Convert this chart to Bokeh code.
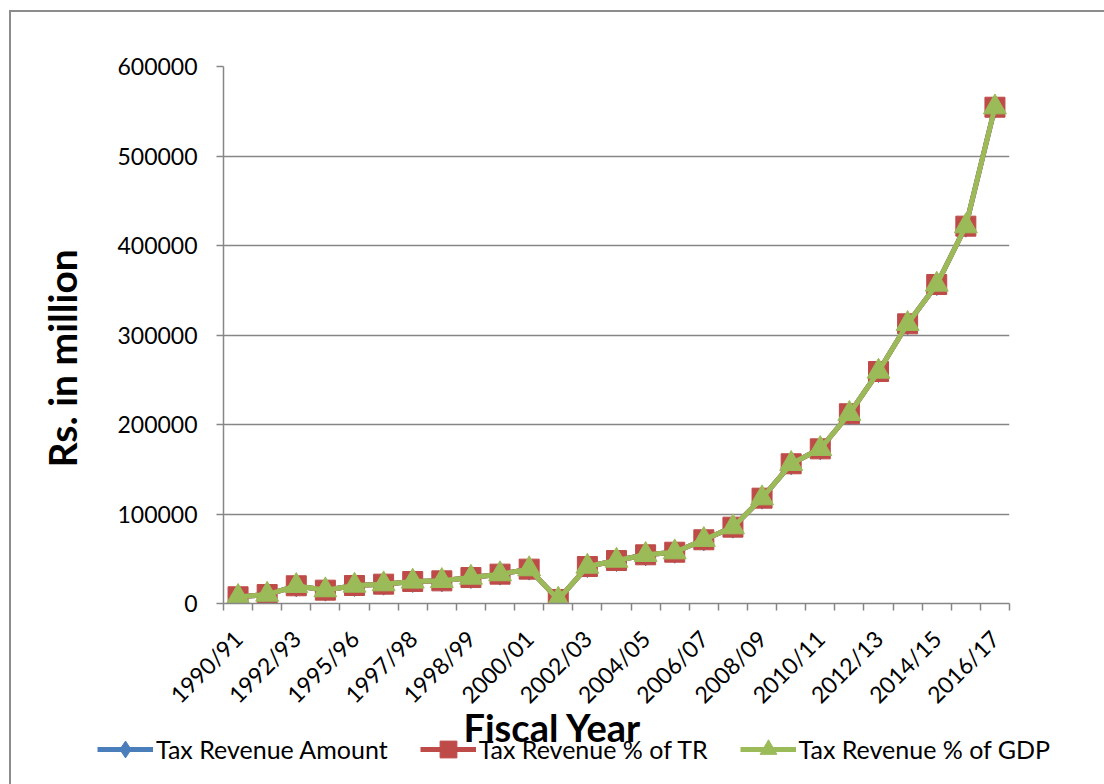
from math import pi
from bokeh.plotting import figure
from bokeh.layouts import column
from bokeh.models import (FixedTicker, Legend, LegendItem, Title, Range1d)
from bokeh.embed import file_html
from bokeh.resources import INLINE

fiscal_years = ["1990/91", "1991/92", "1992/93", "1993/94", "1995/96", "1996/97",
                "1997/98", "1997/98", "1998/99", "1999/00", "2000/01", "2001/02",
                "2002/03", "2003/04", "2004/05", "2005/06", "2006/07", "2007/08",
                "2008/09", "2009/10", "2010/11", "2011/12", "2012/13", "2013/14",
                "2014/15", "2015/16", "2016/17"]

tax_revenue_amount = [7500, 10000, 19800, 14900, 20100, 21600, 24600, 25300, 29000,
                      32800, 38400, 4500, 41300, 48000, 54400, 57300, 71200, 85300,
                      117700, 156100, 172800, 212000, 259200, 312500, 356400, 421600, 554500]
tax_revenue_pct_tr = [7500, 10000, 19800, 14900, 20100, 21600, 24600, 25300, 29000,
                      32800, 38400, 4500, 41300, 48000, 54400, 57300, 71200, 85300,
                      117700, 156100, 172800, 212000, 259200, 312500, 356400, 421600, 554500]
tax_revenue_pct_gdp = [7500, 10000, 19800, 14900, 20100, 21600, 24600, 25300, 29000,
                       32800, 38400, 4500, 41300, 48000, 54400, 57300, 71200, 85300,
                       117700, 156100, 172800, 212000, 259200, 312500, 356400, 421600, 554500]

y_ticks = [0, 100000, 200000, 300000, 400000, 500000, 600000]
series_names = ["Tax Revenue Amount", "Tax Revenue % of TR", "Tax Revenue % of GDP"]
x_title = "Fiscal Year"
y_title = "Rs. in million"

FONT = "Lato"
GRAY = "#868686"
BORDER = "#8c8c8c"
colors = ["#4A7EBB", "#BE4B48", "#9BBB59"]
markers = ["diamond", "square", "triangle"]
marker_sizes = [22, 20, 23]
series = [tax_revenue_amount, tax_revenue_pct_tr, tax_revenue_pct_gdp]

x = list(range(len(fiscal_years)))

# ---------------- main chart ----------------
p = figure(width=1104, height=752, output_backend="svg", toolbar_location=None,
           x_range=Range1d(-0.5, len(fiscal_years) - 0.5),
           y_range=Range1d(y_ticks[0], y_ticks[-1]),
           min_border_left=223, min_border_right=95, min_border_top=66,
           min_border_bottom=149)
p.outline_line_color = None
p.background_fill_color = "white"
p.border_fill_color = None
p.styles = {
    "background": (f"linear-gradient({BORDER},{BORDER}) 9px 10px / 2px 100% no-repeat, "
                   f"linear-gradient({BORDER},{BORDER}) 9px 10px / 100% 2px no-repeat, white")
}

label_idx = list(range(0, len(fiscal_years), 2))
p.xaxis.ticker = FixedTicker(ticks=label_idx,
                             minor_ticks=[i - 0.5 for i in range(len(fiscal_years) + 1)])
p.xaxis.major_label_overrides = {i: fiscal_years[i] for i in label_idx}
p.xaxis.major_label_orientation = pi / 4
p.xaxis.major_tick_out = 0
p.xaxis.major_tick_in = 0
p.xaxis.minor_tick_out = 7
p.xaxis.minor_tick_in = 0
p.xaxis.minor_tick_line_color = GRAY
p.xaxis.minor_tick_line_width = 1.5
p.xaxis.major_label_standoff = 24
p.xgrid.grid_line_color = None

p.yaxis.ticker = FixedTicker(ticks=y_ticks, minor_ticks=[])
p.yaxis.major_label_overrides = {v: str(v) for v in y_ticks}
p.yaxis.major_tick_out = 7
p.yaxis.major_tick_in = 0
p.yaxis.minor_tick_out = 0
p.yaxis.minor_tick_in = 0
p.yaxis.major_label_standoff = 19
p.ygrid.grid_line_color = GRAY
p.ygrid.grid_line_width = 1.5

for ax in (p.xaxis, p.yaxis):
    ax.axis_line_color = GRAY
    ax.axis_line_width = 1.5
    ax.major_tick_line_color = GRAY
    ax.major_tick_line_width = 1.5
    ax.major_label_text_font = FONT
    ax.major_label_text_font_size = "23px"
    ax.major_label_text_color = "black"

for vals, c, mk, ms in zip(series, colors, markers, marker_sizes):
    p.line(x, vals, line_color=c, line_width=5)
    p.scatter(x, vals, marker=mk, size=ms, fill_color=c, line_color=c)

p.add_layout(Title(text=x_title, align="left", offset=240, standoff=-57,
                   text_font=FONT, text_font_style="bold", text_font_size="38px",
                   text_color="black"), "below")
p.add_layout(Title(text=y_title, align="left", offset=136, standoff=60,
                   text_font=FONT, text_font_style="bold", text_font_size="39px",
                   text_color="black"), "left")

# ---------------- bottom strip: legend (overlaps the chart's empty bottom margin) ----------------
p2 = figure(width=1104, height=52, output_backend="svg", toolbar_location=None,
            x_range=Range1d(0, 1), y_range=Range1d(0, 1),
            min_border=0, x_axis_type=None, y_axis_type=None)
p2.frame_align = False
p2.outline_line_color = None
p2.grid.visible = False
p2.background_fill_color = None
p2.border_fill_color = None
p2.styles = {
    "margin-top": "-20px",
    "background": f"linear-gradient({BORDER},{BORDER}) 9px 0px / 2px 100% no-repeat",
}

items = []
for name, vals, c, mk in zip(series_names, series, colors, markers):
    # legend proxies: same data, far outside this strip's (0..1) ranges, so not visible
    lr = p2.line(x, vals, line_color=c, line_width=5)
    sr = p2.scatter(x, vals, marker=mk, size=18, fill_color=c, line_color=c)
    items.append(LegendItem(label=name, renderers=[lr, sr]))

legend = Legend(items=items, orientation="horizontal", location=(97, 14),
                glyph_width=56, glyph_height=42, label_standoff=3, spacing=32,
                padding=0, margin=0, border_line_color=None,
                background_fill_alpha=0,
                label_text_font=FONT, label_text_font_size="25px",
                label_text_color="black")
p2.add_layout(legend, "center")

layout = column(p, p2, spacing=0)
open("out.html", "w").write(file_html(layout, INLINE))
